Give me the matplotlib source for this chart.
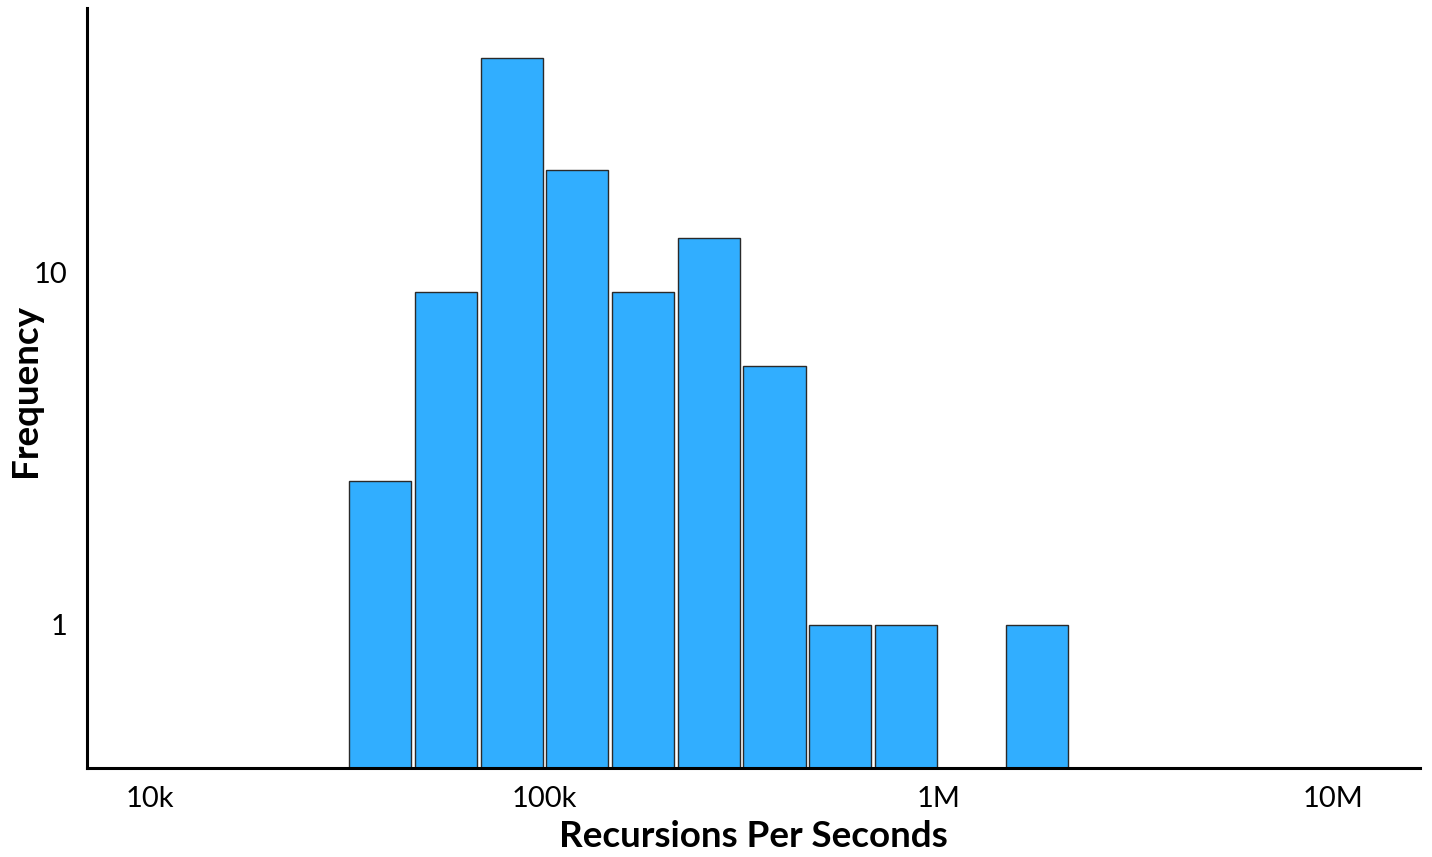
import numpy as np
import matplotlib
matplotlib.use("Agg")
import matplotlib.pyplot as plt

# Histogram data (bins of 1/6 decade, log10 edges start at 4.5)
bin_log_edges = [4.5 + k / 6 for k in range(12)]
counts = [3, 9, 30, 17, 9, 12, 6, 1, 1, 0, 1]
x_ticks = [1e4, 1e5, 1e6, 1e7]
x_tick_labels = ["10k", "100k", "1M", "10M"]
y_ticks = [1, 10]
y_tick_labels = ["1", "10"]

plt.rcParams['font.family'] = ['Lato', 'DejaVu Sans']

fig = plt.figure(figsize=(14.32, 8.57), dpi=100)
ax = fig.add_axes([0.0608, 0.1039, 0.9916 - 0.0608, 0.9907 - 0.1039])

edges = 10 ** np.array(bin_log_edges)
gap = 10 ** 0.0045
lefts = edges[:-1] * gap
rights = edges[1:] / gap
vals = np.array(counts, dtype=float)
mask = vals > 0
ax.bar(lefts[mask], vals[mask], width=(rights - lefts)[mask], align='edge',
       color='#31AEFF', edgecolor='#2a2a2a', linewidth=1.0, zorder=2)

ax.set_xscale('log')
ax.set_yscale('function', functions=(lambda y: np.log10(1 + np.clip(y, -0.999999, None)),
                                     lambda u: 10 ** u - 1))
ax.set_xlim(6.92e3, 1.66e7)
ax.set_ylim(0, 38.5)

ax.set_xticks(x_ticks)
ax.set_xticklabels(x_tick_labels)
ax.xaxis.set_minor_locator(matplotlib.ticker.NullLocator())
ax.set_yticks(y_ticks)
ax.set_yticklabels(y_tick_labels)
ax.yaxis.set_minor_locator(matplotlib.ticker.NullLocator())
ax.tick_params(axis='both', length=0, labelsize=21, colors='black')
ax.tick_params(axis='x', pad=13)
ax.tick_params(axis='y', pad=14)

for s in ['top', 'right']:
    ax.spines[s].set_visible(False)
for s in ['left', 'bottom']:
    ax.spines[s].set_linewidth(2.2)
    ax.spines[s].set_color('black')

ax.set_xlabel('Recursions Per Seconds', fontsize=26.5, fontweight='bold', labelpad=6)
ax.set_ylabel('Frequency', fontsize=26.5, fontweight='bold', va='center')
ax.yaxis.set_label_coords((25 - 87) / 1333, 0.497)

fig.savefig('out.png', dpi=100)
